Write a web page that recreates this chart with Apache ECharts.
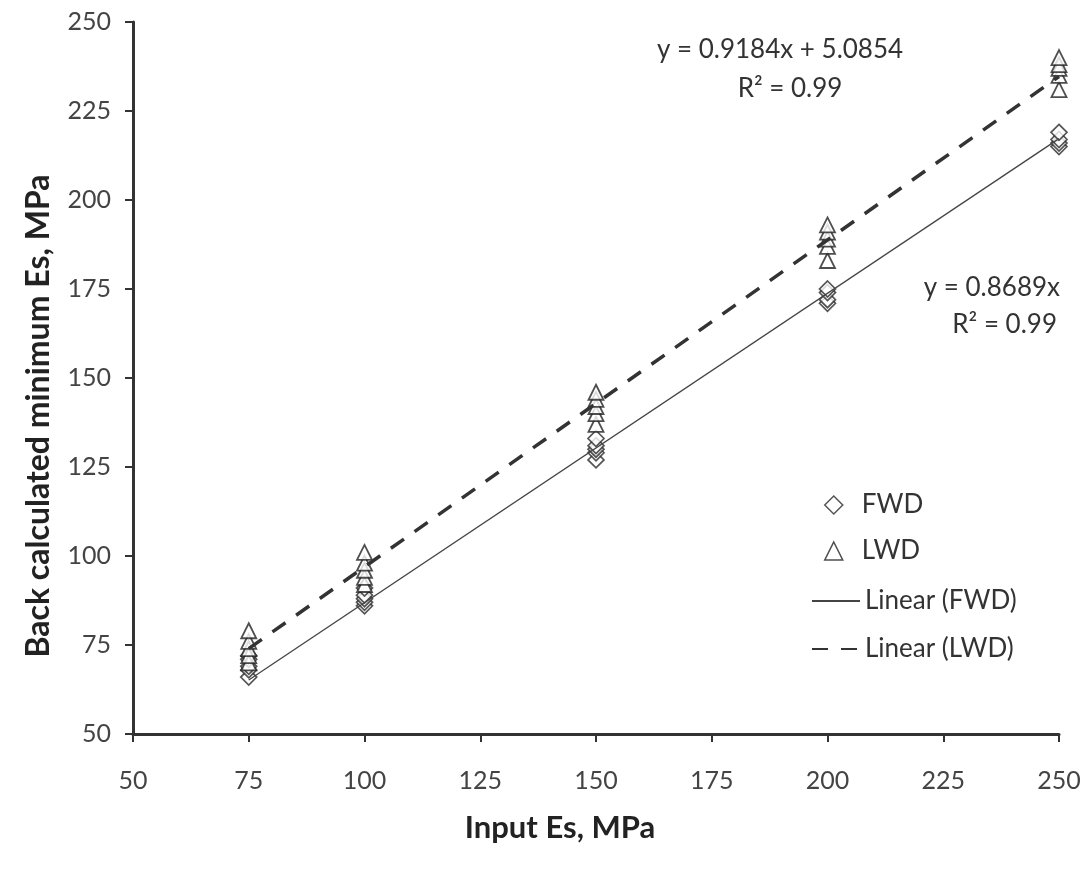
<!DOCTYPE html>
<html>
<head>
<meta charset="utf-8">
<script src="https://cdn.jsdelivr.net/npm/echarts@6/dist/echarts.min.js"></script>
<style>
html,body{margin:0;padding:0;background:#fff;}
#chart{width:1091px;height:874px;}
</style>
</head>
<body>
<div id="chart"></div>
<script>
// Input Es (MPa) for each point, and back-calculated values
const fwdX = [75,75,75,75,75, 100,100,100,100,100, 150,150,150,150,150, 200,200,200,200, 250,250,250,250];
const fwdY = [66,68,69,71,72, 86,87,88,89,91, 127,129,130,131,133, 171,172,174,175, 215,216,217,219];
const lwdX = [75,75,75,75,75, 100,100,100,100,100, 150,150,150,150,150, 200,200,200,200,200, 250,250,250,250,250];
const lwdY = [70,72,74,76,79, 92,94,96,98,101, 137,140,142,144,146, 183,187,189,191,193, 231,235,237,238,240];
const fitX = [75, 250];
const fwdFitY = [65.17, 217.23];
const lwdFitY = [73.97, 234.69];
const xTicks = [50,75,100,125,150,175,200,225,250];
const yTicks = [50,75,100,125,150,175,200,225,250];
const eqLWD = ['y = 0.9184x + 5.0854', 'R\u00B2 = 0.99'];
const eqFWD = ['y = 0.8689x', 'R\u00B2 = 0.99'];

const zip = (a, b) => a.map((v, i) => [v, b[i]]);
const FONT = 'Lato, "Open Sans", sans-serif';
const eqStyle = { fontFamily: FONT, fontSize: 26, fill: '#333', textVerticalAlign: 'middle' };
const chart = echarts.init(document.getElementById('chart'));
chart.setOption({
  animation: false,
  backgroundColor: '#fff',
  grid: { left: 133, right: 32, top: 22, bottom: 140 },
  xAxis: {
    type: 'value', min: xTicks[0], max: xTicks[xTicks.length-1], interval: 25,
    name: 'Input Es, MPa', nameLocation: 'middle', nameGap: 78,
    nameTextStyle: { fontFamily: FONT, fontWeight: 'bold', fontSize: 31, color: '#222', padding: [0, 72, 0, 0] },
    axisLine: { lineStyle: { color: '#333', width: 3 } },
    axisTick: { show: true, length: 8, lineStyle: { color: '#333', width: 2 } },
    axisLabel: { margin: 34, fontFamily: FONT, fontSize: 25, color: '#444' },
    splitLine: { show: false }
  },
  yAxis: {
    type: 'value', min: yTicks[0], max: yTicks[yTicks.length-1], interval: 25,
    name: 'Back calculated minimum Es, MPa', nameLocation: 'middle', nameGap: 78,
    nameTextStyle: { fontFamily: FONT, fontWeight: 'bold', fontSize: 32, color: '#222', padding: [0, 76, 0, 0] },
    axisLine: { show: true, lineStyle: { color: '#333', width: 3 } },
    axisTick: { show: true, length: 8, lineStyle: { color: '#333', width: 2 } },
    axisLabel: { margin: 22, fontFamily: FONT, fontSize: 25, color: '#444' },
    splitLine: { show: false }
  },
  legend: [
    {
      orient: 'vertical', left: 819, top: 487,
      itemWidth: 18, itemHeight: 18, itemGap: 20,
      textStyle: { fontFamily: FONT, fontSize: 26, lineHeight: 26, color: '#333', padding: [0, 0, 0, 14] },
      itemStyle: { borderWidth: 1.5 },
      data: [{ name: 'FWD', icon: 'diamond' }, { name: 'LWD', icon: 'triangle' }]
    },
    {
      orient: 'vertical', left: 806, top: 583,
      itemWidth: 48, itemHeight: 15, itemGap: 22,
      textStyle: { fontFamily: FONT, fontSize: 26, lineHeight: 26, color: '#333' },
      data: [
        { name: 'Linear (FWD)', itemStyle: { opacity: 0 } },
        { name: 'Linear (LWD)', itemStyle: { opacity: 0 } }
      ]
    }
  ],
  series: [
    {
      name: 'Linear (FWD)', type: 'line', data: zip(fitX, fwdFitY), symbol: 'none',
      lineStyle: { color: '#444', width: 1.3 }, itemStyle: { color: '#444' }, z: 3
    },
    {
      name: 'Linear (LWD)', type: 'line', data: zip(fitX, lwdFitY), symbol: 'none',
      lineStyle: { color: '#333', width: 3.5, type: [16, 13] }, itemStyle: { color: '#333' }, z: 3
    },
    {
      name: 'FWD', type: 'scatter', data: zip(fwdX, fwdY), symbol: 'diamond', symbolSize: 16,
      itemStyle: { color: '#fff', borderColor: '#2a2a2a', borderWidth: 1.7 }, z: 2
    },
    {
      name: 'LWD', type: 'scatter', data: zip(lwdX, lwdY), symbol: 'triangle', symbolSize: 15,
      itemStyle: { color: '#fff', borderColor: '#222', borderWidth: 1.8 }, z: 2
    }
  ],
  graphic: [
    { type: 'text', x: 780, y: 50, style: Object.assign({ text: eqLWD[0], textAlign: 'center' }, eqStyle) },
    { type: 'text', x: 790, y: 89, style: Object.assign({ text: eqLWD[1], textAlign: 'center' }, eqStyle) },
    { type: 'text', x: 1060, y: 288, style: Object.assign({ text: eqFWD[0], textAlign: 'right' }, eqStyle) },
    { type: 'text', x: 1057, y: 325, style: Object.assign({ text: eqFWD[1], textAlign: 'right' }, eqStyle) }
  ]
});
</script>
</body>
</html>
